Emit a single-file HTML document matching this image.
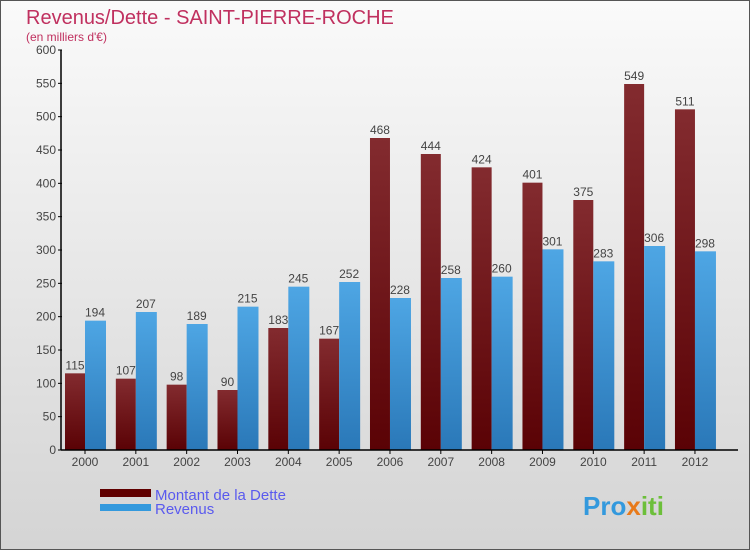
<!DOCTYPE html>
<html><head><meta charset="utf-8"><style>
body{margin:0}
svg text{font-family:"Liberation Sans",sans-serif}
</style></head><body>
<svg id="c" width="750" height="550" xmlns="http://www.w3.org/2000/svg">
<defs>
<linearGradient id="bg" x1="0" y1="0" x2="0" y2="1"><stop offset="0" stop-color="#fafafa"/><stop offset="1" stop-color="#d4d4d4"/></linearGradient>
<linearGradient id="gd" x1="0" y1="0" x2="0" y2="1"><stop offset="0" stop-color="#832b2f"/><stop offset="1" stop-color="#5a0205"/></linearGradient>
<linearGradient id="gr" x1="0" y1="0" x2="0" y2="1"><stop offset="0" stop-color="#4ea6e4"/><stop offset="1" stop-color="#2a78b8"/></linearGradient>
</defs>
<rect x="0.5" y="0.5" width="749" height="549" fill="url(#bg)" stroke="#555"/>
<text x="26" y="24" font-size="20" fill="#c0305f">Revenus/Dette - SAINT-PIERRE-ROCHE</text>
<text x="26" y="41" font-size="12" fill="#c0305f">(en milliers d'€)</text>
<g id="plot"></g>
<rect x="100" y="489" width="51" height="8" fill="#600000"/>
<rect x="100" y="504" width="51" height="7" fill="#3399dd"/>
<text x="155" y="500" font-size="15" fill="#5a5aee">Montant de la Dette</text>
<text x="155" y="514" font-size="15" fill="#5a5aee">Revenus</text>
<text x="583" y="515" font-size="26" font-weight="bold" fill="#3399dd">Pro<tspan fill="#e87a1a">x</tspan><tspan fill="#6cbf3a">iti</tspan></text>
</svg>
<script>
const years=["2000","2001","2002","2003","2004","2005","2006","2007","2008","2009","2010","2011","2012"];
const dette=[115,107,98,90,183,167,468,444,424,401,375,549,511];
const revenus=[194,207,189,215,245,252,228,258,260,301,283,306,298];
const yTicks=[0,50,100,150,200,250,300,350,400,450,500,550,600];
const NS="http://www.w3.org/2000/svg";
const g=document.getElementById('plot');
const y=v=>450-v*400/600;
const xc=i=>85+i*50.83;
function mk(t,a){const e=document.createElementNS(NS,t);for(const k in a)e.setAttribute(k,a[k]);g.appendChild(e);return e;}
yTicks.forEach(v=>{
 const l=mk('line',{x1:58,x2:62,y1:y(v),y2:y(v),stroke:'#000'});
 
 
 const t=mk('text',{x:56,y:y(v)+4,'font-size':12,fill:'#444','text-anchor':'end'});t.textContent=v;
 
 
});
years.forEach((yr,i)=>{
 const c=xc(i);
 const b1=mk('rect',{x:c-20,y:y(dette[i]),width:20,height:450-y(dette[i]),fill:'url(#gd)'});
 
 
 const b2=mk('rect',{x:c,y:y(revenus[i]),width:21,height:450-y(revenus[i]),fill:'url(#gr)'});
 
 
 const t1=mk('text',{x:c-10,y:y(dette[i])-4,'font-size':12,fill:'#444','text-anchor':'middle'});t1.textContent=dette[i];
 
 
 const t2=mk('text',{x:c+10,y:y(revenus[i])-4,'font-size':12,fill:'#444','text-anchor':'middle'});t2.textContent=revenus[i];
 
 
 const tk=mk('line',{x1:c,x2:c,y1:450,y2:454,stroke:'#000'});
 
 
 const xl=mk('text',{x:c,y:466,'font-size':12,fill:'#444','text-anchor':'middle'});xl.textContent=yr;
 
 
});
const ya=mk('line',{x1:61,x2:61,y1:50,y2:450,stroke:'#000','stroke-width':1.5});


const xa=mk('line',{x1:61,x2:738,y1:450,y2:450,stroke:'#000','stroke-width':1.5});


</script>
</body></html>
